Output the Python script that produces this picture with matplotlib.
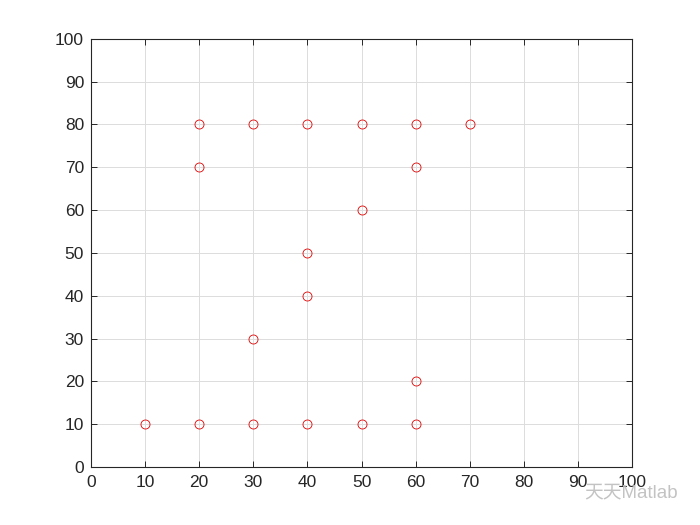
import matplotlib
matplotlib.use('Agg')
import matplotlib.pyplot as plt

# point coordinates
xs = [20, 30, 40, 50, 60, 70, 20, 60, 50, 40, 40, 30, 60, 10, 20, 30, 40, 50, 60]
ys = [80, 80, 80, 80, 80, 80, 70, 70, 60, 50, 40, 30, 20, 10, 10, 10, 10, 10, 10]
ticks = list(range(0, 101, 10))

plt.rcParams['font.family'] = ['Liberation Sans', 'Noto Sans CJK SC', 'DejaVu Sans']

fig = plt.figure(figsize=(7, 5.25), dpi=100)
ax = fig.add_axes([0.13, 0.1105, 0.773, 0.8155])

ax.plot(xs, ys, 'o', linestyle='none', markersize=6.5, markerfacecolor='none',
        markeredgecolor='#e00000', markeredgewidth=0.6)

ax.set_xlim(0, 100)
ax.set_ylim(0, 100)
ax.set_xticks(ticks)
ax.set_yticks(ticks)
ax.grid(True, color='#dcdcdc', linewidth=0.7)
ax.set_axisbelow(True)
ax.tick_params(direction='in', top=True, right=True, length=4, width=0.7,
               labelsize=12.5, colors='#262626')
ax.tick_params(axis='x', pad=6)
ax.tick_params(axis='y', pad=5)
for s in ax.spines.values():
    s.set_linewidth(0.8)
    s.set_color('#262626')

# watermark
fig.text(0.968, 0.062, '天天Matlab', ha='right', va='center', fontsize=13.5,
         color='#bdbdbd', alpha=0.9)

fig.savefig('out.png', dpi=100)
